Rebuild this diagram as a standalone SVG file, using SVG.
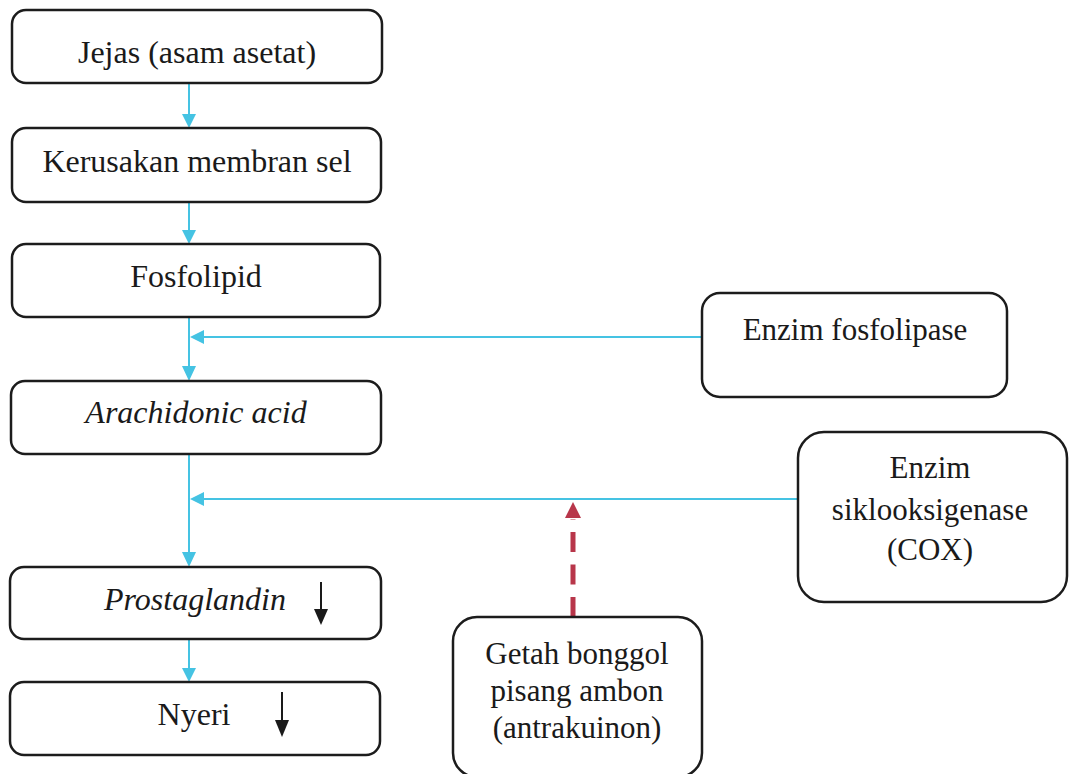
<svg xmlns="http://www.w3.org/2000/svg" width="1069" height="774" viewBox="0 0 1069 774">
<style>
.box{fill:#fff;stroke:#1c1c1c;stroke-width:2.5}
text{font-family:'Liberation Serif','Times New Roman',Times,serif;font-size:32px;fill:#1a1a1a;text-anchor:middle}
.r{font-size:31px}
.i{font-style:italic}
.cy{stroke:#45c3e3;stroke-width:2;fill:none}
.cyh{fill:#45c3e3}
.blk{stroke:#1a1a1a;stroke-width:2;fill:none}
</style>
<rect width="1069" height="774" fill="#fff"/>
<g id="connectors">
<line class="cy" x1="189" y1="84" x2="189" y2="114"/>
<polygon class="cyh" points="182,114 196,114 189,128"/>
<line class="cy" x1="189" y1="203" x2="189" y2="230"/>
<polygon class="cyh" points="182,230 196,230 189,244"/>
<line class="cy" x1="189" y1="317" x2="189" y2="366"/>
<polygon class="cyh" points="182,366 196,366 189,381"/>
<line class="cy" x1="702" y1="337" x2="203" y2="337"/>
<polygon class="cyh" points="204,330 204,344 190,337"/>
<line class="cy" x1="189" y1="455" x2="189" y2="552"/>
<polygon class="cyh" points="182,552 196,552 189,567"/>
<line class="cy" x1="798" y1="499" x2="203" y2="499"/>
<polygon class="cyh" points="204,492 204,506 190,499"/>
<line class="cy" x1="189" y1="640" x2="189" y2="668"/>
<polygon class="cyh" points="182,668 196,668 189,682"/>
<line x1="573" y1="617" x2="573" y2="519" stroke="#b8364a" stroke-width="5" stroke-dasharray="20 12.5"/>
<polygon fill="#b8364a" points="573,502 565,518 581,518"/>
</g>
<g id="node-jejas">
<rect class="box" x="12" y="10" width="370" height="73" rx="14"/>
<text x="197" y="63">Jejas (asam asetat)</text>
</g>
<g id="node-kerusakan">
<rect class="box" x="12" y="128" width="369" height="74" rx="14"/>
<text x="197" y="172">Kerusakan membran sel</text>
</g>
<g id="node-fosfolipid">
<rect class="box" x="12" y="244" width="368" height="73" rx="14"/>
<text x="196" y="287">Fosfolipid</text>
</g>
<g id="node-arachidonic">
<rect class="box" x="11" y="381" width="370" height="73" rx="14"/>
<text class="i" x="196" y="423">Arachidonic acid</text>
</g>
<g id="node-prostaglandin">
<rect class="box" x="10" y="567" width="371" height="72" rx="14"/>
<text class="i" x="195" y="610">Prostaglandin</text>
<line class="blk" x1="321" y1="582" x2="321" y2="612"/>
<polygon fill="#1a1a1a" points="314,609 328,609 321,625"/>
</g>
<g id="node-nyeri">
<rect class="box" x="10" y="682" width="370" height="73" rx="14"/>
<text x="194" y="725">Nyeri</text>
<line class="blk" x1="282" y1="692" x2="282" y2="722"/>
<polygon fill="#1a1a1a" points="275,720 289,720 282,737"/>
</g>
<g id="node-fosfolipase">
<rect class="box" x="702" y="293" width="305" height="104" rx="18"/>
<text class="r" x="855" y="340">Enzim fosfolipase</text>
</g>
<g id="node-cox">
<rect class="box" x="798" y="432" width="269" height="170" rx="26"/>
<text class="r" x="930" y="478">Enzim</text>
<text class="r" x="930" y="520">siklooksigenase</text>
<text class="r" x="930" y="560">(COX)</text>
</g>
<g id="node-getah">
<rect class="box" x="453" y="617" width="249" height="160" rx="24"/>
<text class="r" x="577" y="664">Getah bonggol</text>
<text class="r" x="577" y="701">pisang ambon</text>
<text class="r" x="577" y="738">(antrakuinon)</text>
</g>
</svg>
